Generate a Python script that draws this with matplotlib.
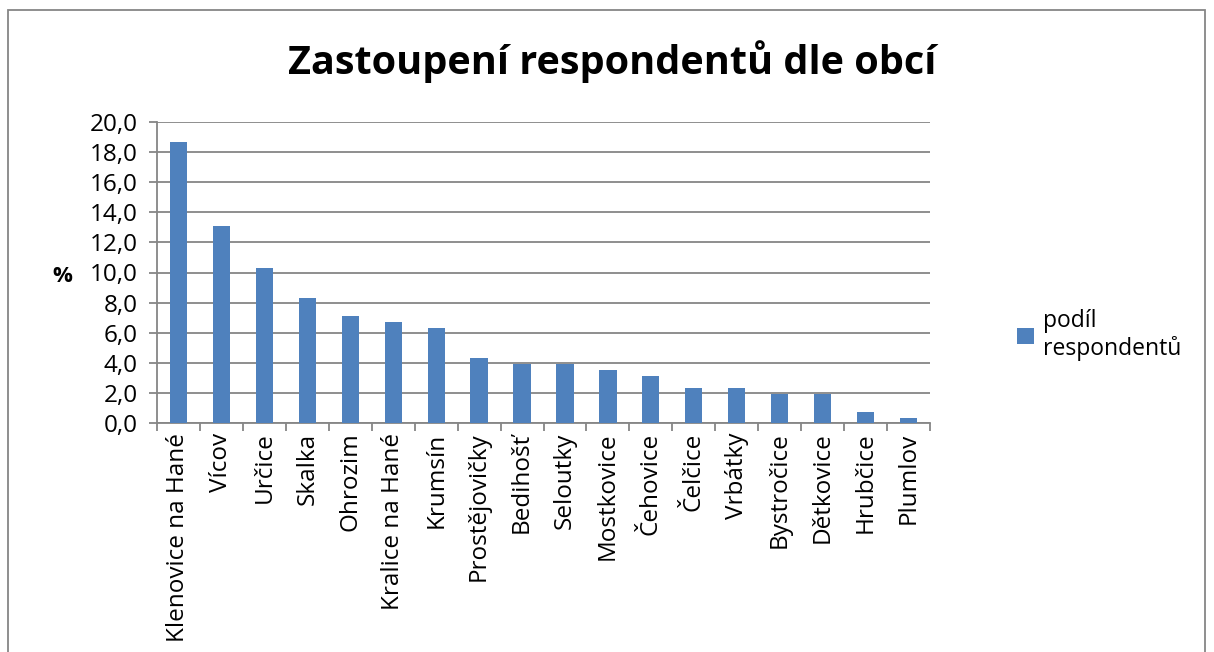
import matplotlib.pyplot as plt
from matplotlib.patches import Rectangle
from matplotlib.ticker import MultipleLocator, FixedLocator, FuncFormatter
import numpy as np

plt.rcParams['font.family'] = ['Open Sans', 'DejaVu Sans']

obce = ['Klenovice na Hané', 'Vícov', 'Určice', 'Skalka', 'Ohrozim',
        'Kralice na Hané', 'Krumsín', 'Prostějovičky', 'Bedihošť', 'Seloutky',
        'Mostkovice', 'Čehovice', 'Čelčice', 'Vrbátky', 'Bystročice',
        'Dětkovice', 'Hrubčice', 'Plumlov']
podil = [18.7, 13.1, 10.3, 8.3, 7.1, 6.7, 6.3, 4.3, 3.9, 3.9,
         3.5, 3.1, 2.3, 2.3, 1.9, 1.9, 0.7, 0.3]

grey = '#868686'

fig = plt.figure(figsize=(12.14, 6.52), dpi=100)
ax = fig.add_axes([157/1214, 1-423/652, (930-157)/1214, (423-122)/652])

x = np.arange(len(obce))
ax.bar(x, podil, width=0.4, color='#4F81BD', label='podíl\nrespondentů', zorder=3)

ax.set_xlim(-0.5, len(obce)-0.5)
ax.set_ylim(0, 20)
ax.yaxis.set_major_locator(MultipleLocator(2))
ax.yaxis.set_major_formatter(FuncFormatter(lambda v, p: ('%.1f' % v).replace('.', ',')))
ax.grid(axis='y', color=grey, linewidth=1.3, zorder=0)

ax.set_xticks(x)
ax.set_xticklabels(obce, rotation=90, fontsize=17.5)
ax.xaxis.set_minor_locator(FixedLocator(np.arange(-0.5, len(obce), 1)))
ax.tick_params(axis='x', which='major', length=0, pad=7)
ax.tick_params(axis='x', which='minor', length=6, color=grey, width=1.3)
ax.tick_params(axis='y', length=6, color=grey, width=1.3, labelsize=17.5, pad=8)

for s in ['top', 'right']:
    ax.spines[s].set_visible(False)
for s in ['left', 'bottom']:
    ax.spines[s].set_color(grey)
    ax.spines[s].set_linewidth(1.3)

fig.text(62/1214, 1-277/652, '%', fontsize=16, fontweight='bold', ha='center', va='center')
fig.suptitle('Zastoupení respondentů dle obcí', x=612/1214, y=1-62/652,
             fontsize=28.5, fontweight='bold', va='center')

ax.legend(loc='center left', bbox_to_anchor=(996/1214, 1-335/652),
          bbox_transform=fig.transFigure, frameon=False, fontsize=16.5,
          handlelength=0.75, handleheight=0.75, handletextpad=0.4)

fig.patches.append(Rectangle((8/1214, -0.1), (1205-8)/1214, 1.1-10/652,
                             transform=fig.transFigure, fill=False,
                             edgecolor=grey, linewidth=1.3))

fig.savefig('out.png', dpi=100)
